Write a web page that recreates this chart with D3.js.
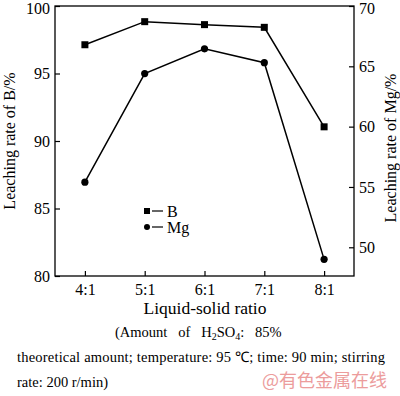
<!DOCTYPE html>
<html><head><meta charset="utf-8">
<script src="https://cdn.jsdelivr.net/npm/d3@7"></script>
<style>body{margin:0;background:#fff}svg{display:block}</style>
</head><body>
<svg id="c" width="400" height="396"></svg>
<script>
const categories = ["4:1","5:1","6:1","7:1","8:1"];
const valuesB = [97.13, 98.84, 98.62, 98.42, 91.05];
const valuesMg = [55.4, 64.4, 66.45, 65.3, 49.0];
const leftTicks = [80,85,90,95,100];
const rightTicks = [50,55,60,65,70];

const svg = d3.select("#c");
const font = "'Liberation Serif','Times New Roman',serif";
const L=55, R=354, T=6, B=276;
const x = d3.scalePoint().domain(categories).range([L,R]).padding(0.5);
const yL = d3.scaleLinear().domain([80,100]).range([B,T]);
const yR = d3.scaleLinear().domain([47.62,70]).range([B,T]);

svg.append("rect").attr("x",L).attr("y",T).attr("width",R-L).attr("height",B-T)
  .attr("fill","none").attr("stroke","#000").attr("stroke-width",1.3);

const gx = svg.append("g").attr("transform",`translate(0,${B})`)
  .call(d3.axisBottom(x).tickSizeInner(-5).tickSizeOuter(0).tickPadding(8));
const gl = svg.append("g").attr("transform",`translate(${L},0)`)
  .call(d3.axisLeft(yL).tickValues(leftTicks).tickSizeInner(-5).tickSizeOuter(0).tickPadding(5));
const gr = svg.append("g").attr("transform",`translate(${R},0)`)
  .call(d3.axisRight(yR).tickValues(rightTicks).tickSizeInner(-5).tickSizeOuter(0).tickPadding(5));
[gx,gl,gr].forEach(g=>{
  g.select(".domain").remove();
  g.selectAll("line").attr("stroke","#000").attr("stroke-width",1.2);
  g.selectAll("text").attr("font-family",font).attr("font-size",16).attr("fill","#000");
});
gx.selectAll("text").attr("dy","0.71em");
gl.selectAll("text").filter(d=>d===100).attr("dy","0.45em");
gr.selectAll("text").filter(d=>d===70).attr("dy","0.45em");

const lineB = d3.line().x((d,i)=>x(categories[i])).y(d=>yL(d));
const lineMg = d3.line().x((d,i)=>x(categories[i])).y(d=>yR(d));
svg.append("path").attr("d",lineB(valuesB)).attr("fill","none").attr("stroke","#000").attr("stroke-width",1.5);
svg.append("path").attr("d",lineMg(valuesMg)).attr("fill","none").attr("stroke","#000").attr("stroke-width",1.5);
svg.selectAll(".sq").data(valuesB).enter().append("rect")
  .attr("x",(d,i)=>x(categories[i])-3.5).attr("y",d=>yL(d)-3.5).attr("width",7).attr("height",7).attr("fill","#000");
svg.selectAll(".ci").data(valuesMg).enter().append("circle")
  .attr("cx",(d,i)=>x(categories[i])).attr("cy",d=>yR(d)).attr("r",3.6).attr("fill","#000");

// legend
const lg = svg.append("g").attr("font-family",font).attr("font-size",16);
lg.append("rect").attr("x",144).attr("y",208).attr("width",6).attr("height",6).attr("fill","#000");
lg.append("line").attr("x1",152).attr("x2",163).attr("y1",211).attr("y2",211).attr("stroke","#000").attr("stroke-width",1.2);
lg.append("text").attr("x",167).attr("y",216.5).text("B");
lg.append("circle").attr("cx",147).attr("cy",227).attr("r",3).attr("fill","#000");
lg.append("line").attr("x1",152).attr("x2",163).attr("y1",227).attr("y2",227).attr("stroke","#000").attr("stroke-width",1.2);
lg.append("text").attr("x",167).attr("y",232.5).text("Mg");

// axis titles
svg.append("text").attr("transform","translate(15,141) rotate(-90)").attr("text-anchor","middle")
  .attr("font-family",font).attr("font-size",16).text("Leaching rate of B/%");
svg.append("text").attr("transform","translate(396,148) rotate(-90)").attr("text-anchor","middle")
  .attr("font-family",font).attr("font-size",16).text("Leaching rate of Mg/%");
svg.append("text").attr("x",205).attr("y",314).attr("text-anchor","middle")
  .attr("font-family",font).attr("font-size",17.5).text("Liquid-solid ratio");

// caption
const cap = svg.append("g").attr("font-family",font).attr("font-size",14.5).attr("fill","#000");
const t1 = cap.append("text").attr("x",115).attr("y",337).attr("xml:space","preserve");
t1.append("tspan").text("(Amount   of   H");
t1.append("tspan").attr("font-size",10).attr("dy",3).text("2");
t1.append("tspan").attr("dy",-3).text("SO");
t1.append("tspan").attr("font-size",10).attr("dy",3).text("4");
t1.append("tspan").attr("dy",-3).text(":   85%");
cap.append("text").attr("x",17).attr("y",362).attr("textLength",368).attr("lengthAdjust","spacing")
  .text("theoretical amount; temperature: 95 ℃; time: 90 min; stirring");
cap.append("text").attr("x",17).attr("y",387).text("rate: 200 r/min)");
svg.append("text").attr("x",262).attr("y",387).attr("font-family","'Noto Sans CJK SC',sans-serif")
  .attr("font-size",18).attr("fill","#ec9c9c").text("@有色金属在线");
</script>
</body></html>
